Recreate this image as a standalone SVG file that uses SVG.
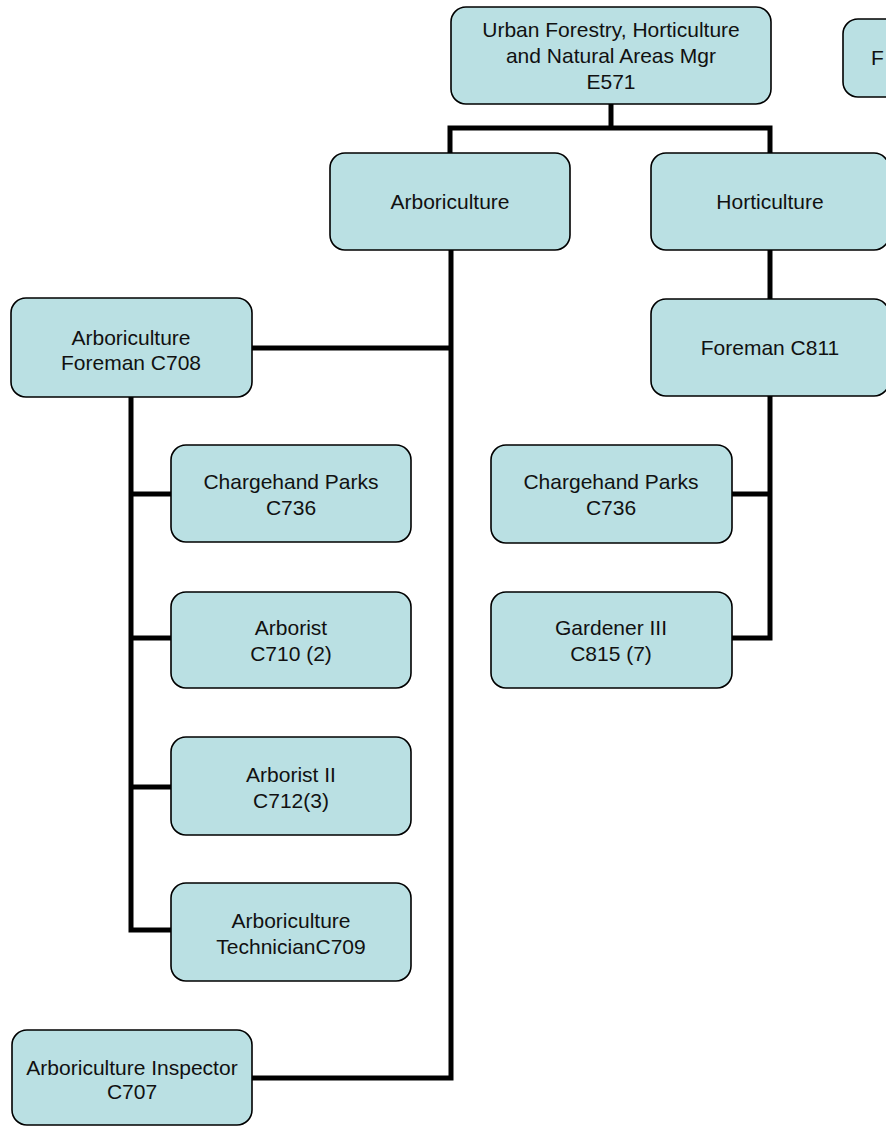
<svg xmlns="http://www.w3.org/2000/svg" width="886" height="1126" viewBox="0 0 886 1126">
<style>
.box{fill:#BAE0E3;stroke:#000;stroke-width:1.6}
.t{font-family:"Liberation Sans",Arial,sans-serif;font-size:21px;fill:#111;text-anchor:middle}
.c{fill:none;stroke:#000;stroke-width:5;stroke-linejoin:miter;stroke-linecap:butt}
</style>
<rect width="886" height="1126" fill="#fff"/>
<g id="connectors">
<path class="c" d="M611,104 V128"/>
<path class="c" d="M450,153 V128 H770 V153"/>
<path class="c" d="M451,250 V1078 H252"/>
<path class="c" d="M252,348 H451"/>
<path class="c" d="M131,397 V930 H171"/>
<path class="c" d="M131,494 H171 M131,638 H171 M131,787 H171"/>
<path class="c" d="M770,250 V299"/>
<path class="c" d="M770,396 V638 H732 M732,494 H770"/>
</g>
<g id="n-mgr"><rect class="box" x="451" y="7" width="320" height="97" rx="15"/>
<text class="t" x="611" y="37">Urban Forestry, Horticulture</text>
<text class="t" x="611" y="63">and Natural Areas Mgr</text>
<text class="t" x="611" y="89">E571</text></g>
<g id="n-partial"><rect class="box" x="843" y="19" width="240" height="78" rx="15"/>
<text class="t" x="871" y="65" style="text-anchor:start">F</text></g>
<g id="n-arbor"><rect class="box" x="330" y="153" width="240" height="97" rx="15"/>
<text class="t" x="450" y="209">Arboriculture</text></g>
<g id="n-horti"><rect class="box" x="651" y="153" width="238" height="97" rx="15"/>
<text class="t" x="770" y="209">Horticulture</text></g>
<g id="n-foreman708"><rect class="box" x="11" y="298" width="241" height="99" rx="15"/>
<text class="t" x="131" y="345">Arboriculture</text>
<text class="t" x="131" y="370">Foreman C708</text></g>
<g id="n-foreman811"><rect class="box" x="651" y="299" width="238" height="97" rx="15"/>
<text class="t" x="770" y="355">Foreman C811</text></g>
<g id="n-charge-l"><rect class="box" x="171" y="445" width="240" height="97" rx="15"/>
<text class="t" x="291" y="489">Chargehand Parks</text>
<text class="t" x="291" y="515">C736</text></g>
<g id="n-arborist"><rect class="box" x="171" y="592" width="240" height="96" rx="15"/>
<text class="t" x="291" y="635">Arborist</text>
<text class="t" x="291" y="661">C710 (2)</text></g>
<g id="n-arborist2"><rect class="box" x="171" y="737" width="240" height="98" rx="15"/>
<text class="t" x="291" y="782">Arborist II</text>
<text class="t" x="291" y="808">C712(3)</text></g>
<g id="n-tech"><rect class="box" x="171" y="883" width="240" height="98" rx="15"/>
<text class="t" x="291" y="928">Arboriculture</text>
<text class="t" x="291" y="954">TechnicianC709</text></g>
<g id="n-inspector"><rect class="box" x="12" y="1030" width="240" height="95" rx="15"/>
<text class="t" x="132" y="1075">Arboriculture Inspector</text>
<text class="t" x="132" y="1099">C707</text></g>
<g id="n-charge-r"><rect class="box" x="491" y="445" width="241" height="98" rx="15"/>
<text class="t" x="611" y="489">Chargehand Parks</text>
<text class="t" x="611" y="515">C736</text></g>
<g id="n-gardener"><rect class="box" x="491" y="592" width="241" height="96" rx="15"/>
<text class="t" x="611" y="635">Gardener III</text>
<text class="t" x="611" y="661">C815 (7)</text></g>
</svg>
